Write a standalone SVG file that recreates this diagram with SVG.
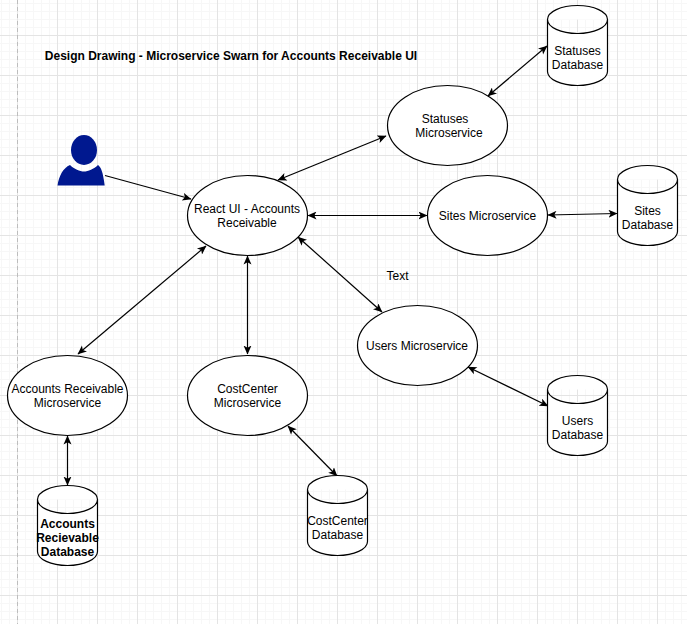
<svg xmlns="http://www.w3.org/2000/svg" width="687" height="624" viewBox="0 0 687 624">
<style>
text{font-family:"Liberation Sans",Arial,sans-serif;font-size:12px;fill:#000;text-anchor:middle}
.n{fill:#fff;stroke:#000;stroke-width:1.2}
.c{fill:none;stroke:#000;stroke-width:1.2;marker-end:url(#a);marker-start:url(#b)}
.o{marker-start:none}
</style>
<defs>
<pattern id="g1" width="8" height="8" patternUnits="userSpaceOnUse" x="1" y="3"><path d="M0 .5H8M.5 0V8" fill="none" stroke="#f7f7f7" stroke-width="1"/></pattern>
<pattern id="g2" width="40" height="40" patternUnits="userSpaceOnUse" x="17" y="35"><path d="M0 .5H40M.5 0V40" fill="none" stroke="#e4e4e4" stroke-width="1"/></pattern>
<marker id="a" markerWidth="10" markerHeight="10" refX="8.5" refY="4" orient="auto" markerUnits="userSpaceOnUse"><path d="M0 0L9 4L0 8L2.2 4Z" fill="#000"/></marker>
<marker id="b" markerWidth="10" markerHeight="10" refX="0.5" refY="4" orient="auto" markerUnits="userSpaceOnUse"><path d="M9 0L0 4L9 8L6.8 4Z" fill="#000"/></marker>
<path id="cyl" d="M0 14A30 14 0 0 1 60 14V66A30 14 0 0 1 0 66ZM0 14A30 14 0 0 0 60 14"/>
</defs>
<rect width="687" height="624" fill="#fff"/>
<rect width="687" height="624" fill="url(#g1)"/>
<rect width="687" height="624" fill="url(#g2)"/>
<path d="M17.5 0V624" stroke="#bdbdbd" stroke-width="1" stroke-dasharray="4 3" fill="none"/>
<text x="231" y="60" style="font-weight:bold">Design Drawing - Microservice Swarn for Accounts Receivable UI</text>
<text x="397.500" y="280">Text</text>
<g id="connectors">
<path class="c o" d="M105 175.500L191 199"/>
<path class="c" d="M278 180L386 136"/>
<path class="c" d="M308 215.500L427 215.500"/>
<path class="c" d="M298 237L382 312"/>
<path class="c" d="M247.500 256L247.500 354"/>
<path class="c" d="M206 246L78 354"/>
<path class="c" d="M67.500 436L67.500 485"/>
<path class="c" d="M288 426L337 476"/>
<path class="c" d="M468 367L548 406"/>
<path class="c" d="M548 215L617 213.500"/>
<path class="c" d="M488 96L547 46"/>
</g>
<g id="user" fill="#00188f">
<ellipse cx="84" cy="150" rx="13" ry="15"/>
<path d="M57.500 185.500C59 176 63 168 70 165C74 169 80 171.500 84 171.500C88 171.500 94 169 98 165C101 167 103 172 104.700 185.500Z"/>
</g>
<g id="react"><ellipse class="n" cx="247.500" cy="215.500" rx="60" ry="40"/><text x="247" y="213">React UI - Accounts</text><text x="247" y="227">Receivable</text></g>
<g id="statuses"><ellipse class="n" cx="447.500" cy="125.500" rx="60" ry="40"/><text x="445" y="123">Statuses</text><text x="449" y="137">Microservice</text></g>
<g id="sites"><ellipse class="n" cx="487.500" cy="215.500" rx="60" ry="40"/><text x="487.500" y="220">Sites Microservice</text></g>
<g id="users"><ellipse class="n" cx="417.500" cy="345.500" rx="60" ry="40"/><text x="417" y="350">Users Microservice</text></g>
<g id="costcenter"><ellipse class="n" cx="247.500" cy="395.500" rx="60" ry="40"/><text x="247.500" y="393">CostCenter</text><text x="247.500" y="407">Microservice</text></g>
<g id="accounts"><ellipse class="n" cx="67.500" cy="395.500" rx="60" ry="40"/><text x="67.500" y="393">Accounts Receivable</text><text x="67.500" y="407">Microservice</text></g>
<g id="statuses-db"><use href="#cyl" class="n" x="547.500" y="5.500"/><text x="577.500" y="55">Statuses</text><text x="577.500" y="69">Database</text></g>
<g id="sites-db"><use href="#cyl" class="n" x="617.500" y="165.500"/><text x="647.500" y="215">Sites</text><text x="647.500" y="229">Database</text></g>
<g id="users-db"><use href="#cyl" class="n" x="547.500" y="375.500"/><text x="577.500" y="425">Users</text><text x="577.500" y="439">Database</text></g>
<g id="costcenter-db"><use href="#cyl" class="n" x="307.500" y="475.500"/><text x="337.500" y="525">CostCenter</text><text x="337.500" y="539">Database</text></g>
<g id="accounts-db" style="font-weight:bold"><use href="#cyl" class="n" x="37.500" y="485.500"/><text x="67.500" y="528">Accounts</text><text x="67.500" y="542">Recievable</text><text x="67.500" y="556">Database</text></g>
</svg>
